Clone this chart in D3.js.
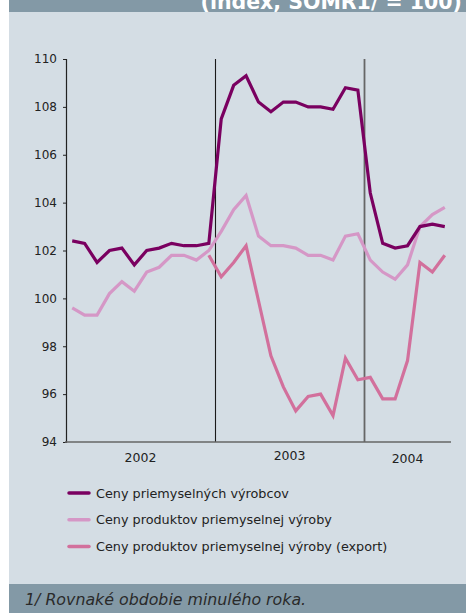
<!DOCTYPE html>
<html><head><meta charset="utf-8">
<script src="https://cdn.jsdelivr.net/npm/d3@7"></script>
<style>
html,body{margin:0;padding:0;background:#fff;}
svg{display:block;}
</style></head>
<body>
<script>
// ---- data ----
const months = ["2002-01","2002-02","2002-03","2002-04","2002-05","2002-06","2002-07","2002-08","2002-09","2002-10","2002-11","2002-12",
"2003-01","2003-02","2003-03","2003-04","2003-05","2003-06","2003-07","2003-08","2003-09","2003-10","2003-11","2003-12",
"2004-01","2004-02","2004-03","2004-04","2004-05","2004-06","2004-07"];
const years = ["2002","2003","2004"];
const yTicks = [94,96,98,100,102,104,106,108,110];
const seriesNames = ["Ceny priemyselných výrobcov","Ceny produktov priemyselnej výroby","Ceny produktov priemyselnej výroby (export)"];
const producerPrices = [102.4,102.3,101.5,102.0,102.1,101.4,102.0,102.1,102.3,102.2,102.2,102.3,
107.5,108.9,109.3,108.2,107.8,108.2,108.2,108.0,108.0,107.9,108.8,108.7,
104.4,102.3,102.1,102.2,103.0,103.1,103.0];
const productPrices = [99.6,99.3,99.3,100.2,100.7,100.3,101.1,101.3,101.8,101.8,101.6,102.0,
102.8,103.7,104.3,102.6,102.2,102.2,102.1,101.8,101.8,101.6,102.6,102.7,
101.6,101.1,100.8,101.4,103.0,103.5,103.8];
const exportPrices = [null,null,null,null,null,null,null,null,null,null,null,101.8,
100.9,101.5,102.2,99.9,97.6,96.3,95.3,95.9,96.0,95.1,97.5,96.6,
96.7,95.8,95.8,97.4,101.5,101.1,101.8];
const colors = ["#7a0060","#d597c6","#d2709c"];
const headerText = "(index, SOMR1/ = 100)";
const footnote = "1/ Rovnaké obdobie minulého roka.";

// ---- layout ----
const W = 466, H = 613;
const FONT = "DejaVu Sans, Verdana, sans-serif";
const svg = d3.select("body").append("svg").attr("width",W).attr("height",H);
svg.append("rect").attr("x",9).attr("y",0).attr("width",W-9).attr("height",H).attr("fill","#d4dde4");
svg.append("rect").attr("x",9).attr("y",0).attr("width",W-9).attr("height",12).attr("fill","#8399a6");
svg.append("text").attr("x",462).attr("y",9).attr("text-anchor","end")
  .attr("font-family",FONT).attr("font-weight","bold").attr("font-size",20.5)
  .attr("fill","#fff").text(headerText);
svg.append("rect").attr("x",9).attr("y",584).attr("width",W-9).attr("height",H-584).attr("fill","#8399a6");
svg.append("text").attr("x",25).attr("y",605)
  .attr("font-family",FONT).attr("font-style","italic").attr("font-size",15.8)
  .attr("fill","#2a2a2a").text(footnote);

const x0 = 66, x1 = 451, yTop = 59, yBot = 442;
const x = d3.scaleBand().domain(months).range([x0,x1]);
const xc = m => x(m) + x.bandwidth()/2;
const y = d3.scaleLinear().domain([94,110]).range([yBot,yTop]);

// y axis
const yAxis = d3.axisLeft(y).tickValues(yTicks).tickSize(3).tickPadding(6).tickFormat(d3.format("d"));
const gy = svg.append("g").attr("transform",`translate(${x0},0)`).call(yAxis);
gy.select(".domain").attr("stroke","#222").attr("stroke-width",1.2);
gy.selectAll(".tick line").attr("stroke","#222");
gy.selectAll(".tick text").attr("font-family",FONT).attr("font-size",12).attr("fill","#222");

// year separators
const sep = [months[12], months[24]];
svg.selectAll("line.sep").data(sep).join("line").attr("class","sep")
  .attr("x1",d=>Math.floor(x(d))+0.5).attr("x2",d=>Math.floor(x(d))+0.5).attr("y1",yTop).attr("y2",yBot)
  .attr("stroke",(d,i)=>i===0?"#1a1a1a":"#666").attr("stroke-width",(d,i)=>i===0?1.1:1.8);

// x axis line
svg.append("line").attr("x1",x0-1).attr("x2",x1).attr("y1",yBot).attr("y2",yBot).attr("stroke","#666").attr("stroke-width",1.6);

// year labels
const yearSpan = yr => { const ms = months.filter(m=>m.startsWith(yr)); return [x(ms[0]), x(ms[ms.length-1])+x.bandwidth()]; };
svg.selectAll("text.year").data(years).join("text").attr("class","year")
  .attr("x",d=>{const s=yearSpan(d); return (s[0]+s[1])/2;})
  .attr("y",(d,i)=>[462,460,463][i]).attr("text-anchor","middle")
  .attr("font-family",FONT).attr("font-size",12.5).attr("fill","#222").text(d=>d);

// lines
const allSeries = [producerPrices, productPrices, exportPrices];
const line = d3.line().defined(d=>d.v!=null).x(d=>xc(d.m)).y(d=>y(d.v));
[2,1,0].forEach(i=>{
  const data = months.map((m,j)=>({m, v: allSeries[i][j]}));
  svg.append("path").datum(data).attr("d",line).attr("fill","none")
    .attr("stroke",colors[i]).attr("stroke-width",3.2).attr("stroke-linejoin","miter");
});

// legend
const lg = svg.append("g");
seriesNames.forEach((n,i)=>{
  const ly = 493 + i*26.7;
  lg.append("line").attr("x1",69).attr("x2",89).attr("y1",ly).attr("y2",ly)
    .attr("stroke",colors[i]).attr("stroke-width",3.5).attr("stroke-linecap","round");
  lg.append("text").attr("x",96).attr("y",ly+4.5)
    .attr("font-family",FONT).attr("font-size",12.8).attr("fill","#222").text(n);
});
</script>
</body></html>
